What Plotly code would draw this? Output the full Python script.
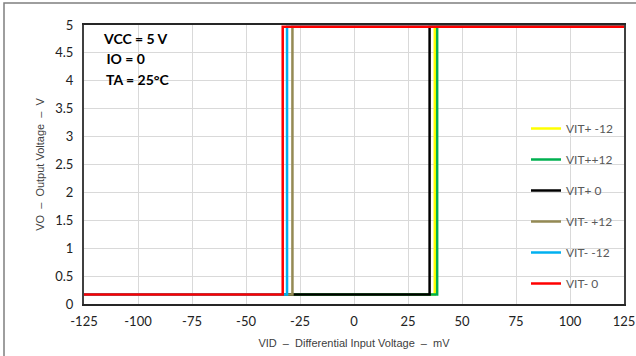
import plotly.graph_objects as go

# Data
series_names = ["VIT+ -12", "VIT++12", "VIT+ 0", "VIT- +12", "VIT- -12", "VIT- 0"]
series_colors = ["#FFFF00", "#00B050", "#000000", "#948A54", "#00B0F0", "#FF0000"]
thresholds_mv = [37.4, 38.5, 35.0, -28.5, -31.0, -33.0]
x_start, x_end = -125, 125
v_low, v_high = 0.17, 4.97

x_ticks = [-125, -100, -75, -50, -25, 0, 25, 50, 75, 100, 125]
y_ticks = [0, 0.5, 1, 1.5, 2, 2.5, 3, 3.5, 4, 4.5, 5]
y_tick_text = ["0", "0.5", "1", "1.5", "2", "2.5", "3", "3.5", "4", "4.5", "5"]
conditions = ["VCC = 5 V", " IO = 0", " TA = 25°C"]

W, H = 636, 356
L, R, T, B = 84, 12, 25, 52
pw, ph = W - L - R, H - T - B

def px_x(p):
    return (p - L) / pw

def px_y(p):
    return (H - B - p) / ph

fig = go.Figure()
for i, (name, col, th) in enumerate(zip(series_names, series_colors, thresholds_mv)):
    fig.add_trace(go.Scatter(
        x=[x_start, th, th, x_end],
        y=[v_low, v_low, v_high, v_high],
        mode="lines", name=name, legendgroup=f"g{i}",
        line=dict(color=col, width=2.5),
    ))

axis_font = dict(family="Lato, Liberation Sans, Arial", size=13, color="#222222")
title_font = dict(family="Liberation Sans, Arial", size=11, color="#404040")

fig.update_layout(
    width=W, height=H,
    margin=dict(l=L, r=R, t=T, b=B, autoexpand=False),
    paper_bgcolor="white", plot_bgcolor="white",
    showlegend=True,
    legend=dict(
        x=px_x(526), y=px_y(114), xanchor="left", yanchor="top",
        bgcolor="rgba(0,0,0,0)", borderwidth=0,
        font=dict(family="Lato, Liberation Sans, Arial", size=12, color="#595959"),
        tracegroupgap=12, itemwidth=30,
    ),
    xaxis=dict(
        range=[x_start, x_end], tickvals=x_ticks, ticktext=[str(v) for v in x_ticks],
        showgrid=True, gridcolor="#D9D9D9", gridwidth=1,
        showline=True, linecolor="#262626", linewidth=2, mirror=True,
        zeroline=False, ticks="", ticklabelstandoff=4, ticklabeloverflow="allow",
        tickfont=axis_font, automargin=False,
        title=dict(text="VID  –  Differential Input Voltage  –  mV", font=title_font, standoff=12),
    ),
    yaxis=dict(
        range=[0, 5], tickvals=y_ticks, ticktext=y_tick_text,
        showgrid=True, gridcolor="#D9D9D9", gridwidth=1,
        showline=True, linecolor="#404040", linewidth=2, mirror=True,
        zeroline=False, ticks="", ticklabelstandoff=6, ticklabeloverflow="allow",
        tickfont=axis_font, automargin=False,
        title=dict(text="VO  –  Output Voltage  –  V", font=title_font, standoff=8),
    ),
)

# legend background box covering gridlines
fig.add_shape(type="rect", xref="paper", yref="paper",
              x0=px_x(510), x1=px_x(622), y0=px_y(301), y1=px_y(112),
              fillcolor="white", line=dict(width=0), layer="between")
# condition text box background hides vertical gridline
fig.add_shape(type="rect", xref="paper", yref="paper",
              x0=px_x(132), x1=px_x(146), y0=px_y(119), y1=px_y(26),
              fillcolor="white", line=dict(width=0), layer="between")

# outer frame
fig.add_shape(type="rect", xref="paper", yref="paper",
              x0=px_x(4), x1=px_x(700), y0=px_y(400), y1=px_y(3),
              line=dict(color="#7F7F7F", width=1.5), fillcolor="rgba(0,0,0,0)")

ys = [38, 58, 79]
xs = [101, 101, 101]
for txt, xx, yy in zip(conditions, xs, ys):
    fig.add_annotation(text=txt, xref="paper", yref="paper",
                       x=px_x(xx), y=px_y(yy), xanchor="left", yanchor="middle",
                       showarrow=False,
                       font=dict(family="Lato, Liberation Sans, Arial", size=14, color="#000000", weight="bold"))

fig.write_html("out.html")
